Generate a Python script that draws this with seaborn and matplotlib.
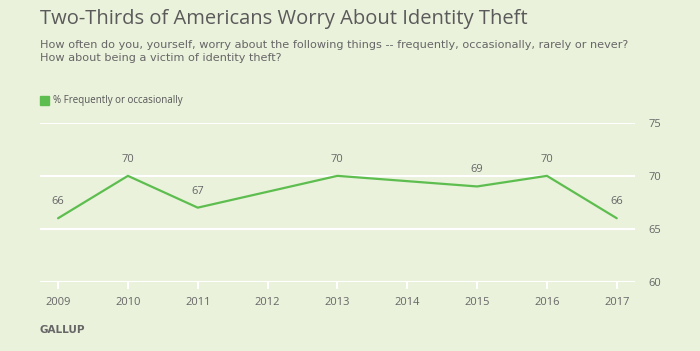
import pandas as pd
import matplotlib
matplotlib.use("Agg")
import matplotlib.pyplot as plt
import seaborn as sns

# data
years = [2009, 2010, 2011, 2013, 2015, 2016, 2017]
pct = [66, 70, 67, 70, 69, 70, 66]
tick_years = list(range(2009, 2018))
y_ticks = [60, 65, 70, 75]

bg = "#EAF2DC"
green = "#5DBE4F"
txt = "#666666"

sns.set_theme(style="white")
plt.rcParams['font.family'] = ['Open Sans', 'DejaVu Sans']

df = pd.DataFrame({"year": years, "pct": pct})

fig = plt.figure(figsize=(7, 3.51), dpi=100, facecolor=bg)
ax = fig.add_axes([0.057, 0.197, 0.85, 0.453], facecolor=bg)

sns.lineplot(data=df, x="year", y="pct", color=green, linewidth=1.6, ax=ax)

for x, y in zip(years, pct):
    ax.annotate(str(y), (x, y), xytext=(0, 8), textcoords="offset points",
                ha="center", va="bottom", fontsize=8, color=txt)

ax.set_xlim(2008.74, 2017.26)
ax.set_ylim(60, 75)
ax.set_yticks(y_ticks)
ax.set_xticks(tick_years)
ax.set_xticklabels([str(t) for t in tick_years])
ax.yaxis.tick_right()
ax.grid(axis="y", color="white", linewidth=1.5)
ax.set_axisbelow(True)
for s in ax.spines.values():
    s.set_visible(False)
ax.tick_params(axis="y", length=0, pad=10, labelsize=8, labelcolor=txt)
ax.tick_params(axis="x", length=5, width=1.5, color="white", pad=6,
               labelsize=8, labelcolor=txt, bottom=True)
ax.set_xlabel("")
ax.set_ylabel("")

fig.text(0.057, 0.945, "Two-Thirds of Americans Worry About Identity Theft",
         fontsize=14.5, color="#5a5a5a", va="center")
sub_font = ['DejaVu Sans']
fig.text(0.057, 0.873, "How often do you, yourself, worry about the following things -- frequently, occasionally, rarely or never?",
         fontsize=8.1, color=txt, va="center", family=sub_font)
fig.text(0.057, 0.836, "How about being a victim of identity theft?",
         fontsize=8.1, color=txt, va="center", family=sub_font)

# legend
fig.patches.append(plt.Rectangle((0.057, 0.700), 0.013, 0.026, transform=fig.transFigure,
                                 color=green, figure=fig))
fig.text(0.076, 0.713, "% Frequently or occasionally", fontsize=7, color="#555555", va="center")

fig.text(0.057, 0.06, "GALLUP", fontsize=7.5, color=txt, fontweight="bold", va="center",
         family=['DejaVu Sans'])

plt.savefig("out.png", dpi=100, facecolor=bg)
